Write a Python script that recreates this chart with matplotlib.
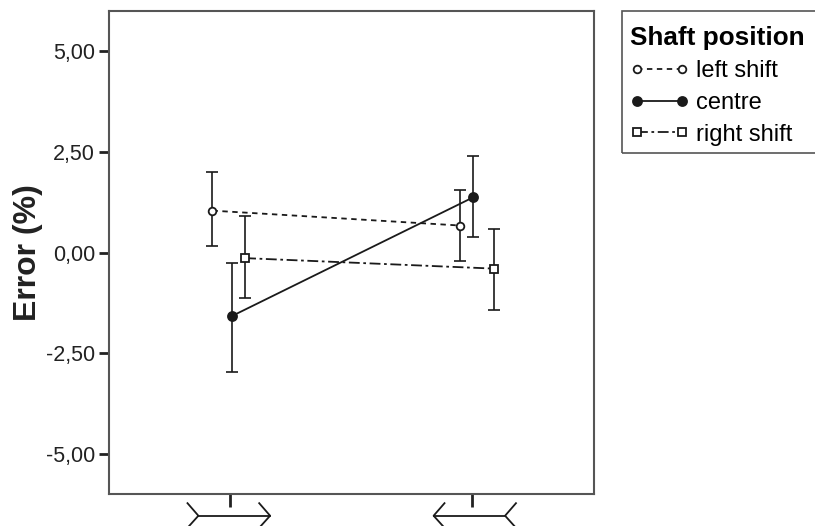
import matplotlib
matplotlib.use("Agg")
import matplotlib.pyplot as plt
from matplotlib.lines import Line2D
from matplotlib.patches import Rectangle

plt.rcParams['font.family'] = ['Liberation Sans', 'DejaVu Sans']

# ---- data ----
groups = [0, 1]
series = ["left shift", "centre", "right shift"]
x_offsets = {"left shift": [-0.073, -0.050], "centre": [0.007, 0.003], "right shift": [0.062, 0.088]}
means = {"left shift": [1.04, 0.67], "centre": [-1.58, 1.37], "right shift": [-0.14, -0.40]}
lows = {"left shift": [0.15, -0.20], "centre": [-2.96, 0.38], "right shift": [-1.14, -1.42]}
highs = {"left shift": [1.99, 1.55], "centre": [-0.25, 2.39], "right shift": [0.90, 0.58]}
yticks = [-5.0, -2.5, 0.0, 2.5, 5.0]
ytick_labels = ["-5,00", "-2,50", "0,00", "2,50", "5,00"]

styles = {
    "left shift": dict(ls=(0, (3, 2.5)), marker='o', mfc='white', ms=5.5),
    "centre": dict(ls='-', marker='o', mfc='#1a1a1a', ms=6.5),
    "right shift": dict(ls=(0, (6, 2, 1.5, 2)), marker='s', mfc='white', ms=5.5),
}
col = '#1a1a1a'

fig = plt.figure(figsize=(8.15, 5.26), dpi=100)
ax = fig.add_axes([109/815, (526-494)/526, (593.5-109)/815, (494-11)/526])

handles = []
for s in series:
    xs = [g + o for g, o in zip(groups, x_offsets[s])]
    m = means[s]
    yerr = [[mm - lo for mm, lo in zip(m, lows[s])], [hi - mm for mm, hi in zip(m, highs[s])]]
    ax.errorbar(xs, m, yerr=yerr, fmt='none', ecolor=col, elinewidth=1.2, capsize=4, capthick=1.2, zorder=2)
    st = styles[s]
    h, = ax.plot(xs, m, color=col, lw=1.3, linestyle=st['ls'], marker=st['marker'],
                 mfc=st['mfc'], mec=col, mew=1.3, ms=st['ms'], label=s, zorder=3)
    handles.append(h)

ax.set_xlim(-0.5, 1.5)
ax.set_ylim(-6, 6)
ax.set_yticks(yticks)
ax.set_yticklabels(ytick_labels, fontsize=15.5, color='#222222')
ax.set_xticks(groups)
ax.set_xticklabels(['', ''])
ax.tick_params(axis='y', length=7, width=2, color='#222222', pad=3)
ax.tick_params(axis='x', length=9, width=2, color='#222222')
for sp in ax.spines.values():
    sp.set_color('#555555')
    sp.set_linewidth(1.5)
ax.set_ylabel('Error (%)', fontsize=23, fontweight='bold', labelpad=2, color='#222222')

# Müller-Lyer style x tick labels
tr = ax.get_xaxis_transform()
yc, yt, yb = -0.045, -0.019, -0.070
fin = 0.045
for g, (a, b), d in [(groups[0], (-0.131, 0.165), 1), (groups[1], (-0.160, 0.135), -1)]:
    x0, x1 = g + a, g + b
    ax.add_line(Line2D([x0, x1], [yc, yc], transform=tr, color=col, lw=1.3, clip_on=False))
    for xv in (x0, x1):
        ax.add_line(Line2D([xv - d*fin, xv, xv - d*fin], [yt, yc, yb], transform=tr,
                           color=col, lw=1.3, clip_on=False))

# legend
leg = fig.legend(handles=handles, labels=series, title='Shaft position',
                 loc='upper left', bbox_to_anchor=(630/815, 1 - 26/526),
                 frameon=False, fontsize=17, title_fontproperties={'weight': 'bold', 'size': 18.8},
                 handlelength=2.5, handletextpad=0.3, labelspacing=0.42, borderpad=0,
                 borderaxespad=0, numpoints=2)
leg._legend_box.align = 'left'
fig.patches.append(Rectangle((622/815, 1 - 153/526), 0.3, (153-11)/526, transform=fig.transFigure,
                             fill=False, edgecolor='#555555', lw=1.2))

fig.savefig('out.png', dpi=100)
